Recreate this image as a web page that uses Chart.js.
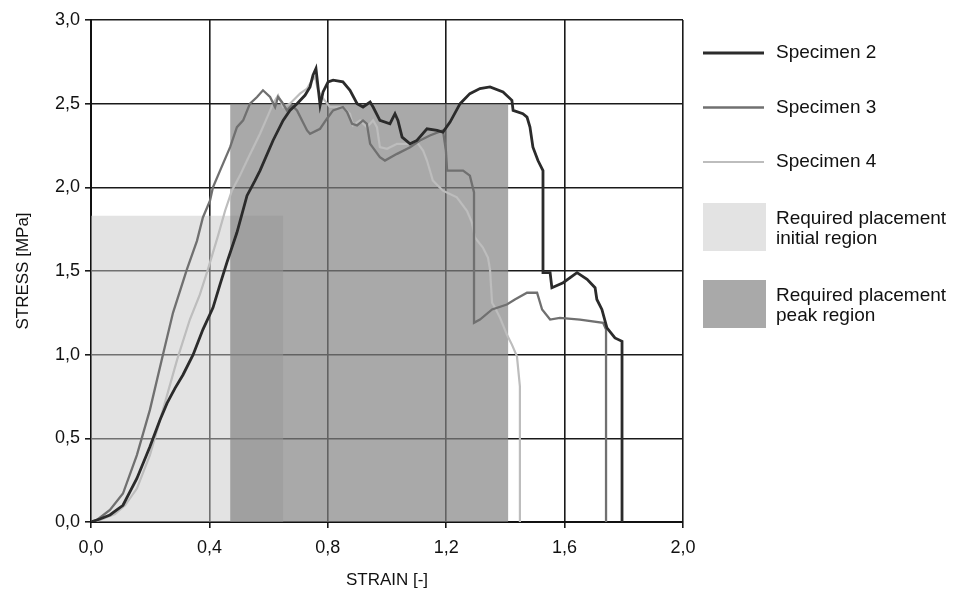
<!DOCTYPE html>
<html lang="en">
  <head>
    <meta charset="UTF-8" />
    <title>Stress - strain</title>
    <script src="https://cdn.jsdelivr.net/npm/chart.js@4.4.0/dist/chart.umd.min.js"></script>
    <style>
      html, body { margin: 0; padding: 0; background: #fff; }
    </style>
  </head>
  <body>
    <canvas id="chart" width="961" height="592"></canvas>
    <script>
      // tick positions
      var xTicks = [0, 0.4, 0.8, 1.2, 1.6, 2.0];
      var yTicks = [0, 0.5, 1.0, 1.5, 2.0, 2.5, 3.0];

      // Specimen 2
      var strain2 = [0, 0.030, 0.064, 0.108, 0.155, 0.199, 0.233, 0.257, 0.284, 0.311, 0.345, 0.378, 0.412, 0.436, 0.459,
        0.493, 0.527, 0.554, 0.571, 0.615, 0.649, 0.672, 0.696, 0.723, 0.740, 0.750, 0.760, 0.767, 0.774, 0.784, 0.801,
        0.818, 0.851, 0.875, 0.899, 0.919, 0.943, 0.953, 0.976, 1.010, 1.027, 1.037, 1.051, 1.078, 1.101, 1.135, 1.169,
        1.189, 1.213, 1.247, 1.280, 1.314, 1.348, 1.392, 1.422, 1.426, 1.459, 1.473, 1.483, 1.493, 1.510, 1.527, 1.527,
        1.551, 1.557, 1.595, 1.642, 1.676, 1.703, 1.709, 1.726, 1.743, 1.770, 1.794, 1.794];
      var stress2 = [0, 0.018, 0.042, 0.10, 0.26, 0.45, 0.61, 0.71, 0.80, 0.88, 1.00, 1.15, 1.28, 1.42, 1.55,
        1.73, 1.95, 2.04, 2.10, 2.28, 2.40, 2.46, 2.50, 2.55, 2.60, 2.67, 2.71, 2.60, 2.49, 2.57, 2.63,
        2.64, 2.63, 2.58, 2.50, 2.48, 2.51, 2.48, 2.40, 2.38, 2.44, 2.40, 2.30, 2.26, 2.28, 2.35, 2.34,
        2.33, 2.39, 2.50, 2.56, 2.59, 2.60, 2.57, 2.52, 2.46, 2.44, 2.42, 2.36, 2.24, 2.16, 2.10, 1.49,
        1.49, 1.40, 1.43, 1.49, 1.45, 1.40, 1.33, 1.27, 1.16, 1.10, 1.08, 0];

      // Specimen 3
      var strain3 = [0, 0.020, 0.064, 0.108, 0.155, 0.199, 0.243, 0.277, 0.324, 0.358, 0.378, 0.402, 0.412, 0.436, 0.470,
        0.493, 0.514, 0.537, 0.561, 0.581, 0.605, 0.622, 0.632, 0.645, 0.662, 0.679, 0.696, 0.713, 0.730, 0.740, 0.774,
        0.797, 0.818, 0.851, 0.865, 0.882, 0.899, 0.919, 0.932, 0.943, 0.976, 0.993, 1.034, 1.078, 1.111, 1.145, 1.189,
        1.199, 1.203, 1.236, 1.257, 1.280, 1.294, 1.294, 1.314, 1.355, 1.405, 1.432, 1.473, 1.507, 1.524, 1.551, 1.584,
        1.652, 1.730, 1.740, 1.740];
      var stress3 = [0, 0.012, 0.072, 0.17, 0.40, 0.67, 1.00, 1.25, 1.51, 1.68, 1.82, 1.92, 2.00, 2.10, 2.24,
        2.36, 2.40, 2.50, 2.54, 2.58, 2.54, 2.48, 2.54, 2.51, 2.46, 2.49, 2.46, 2.40, 2.34, 2.32, 2.35,
        2.41, 2.46, 2.48, 2.45, 2.38, 2.37, 2.40, 2.38, 2.26, 2.18, 2.16, 2.20, 2.24, 2.28, 2.31, 2.34,
        2.22, 2.10, 2.10, 2.10, 2.07, 1.97, 1.19, 1.21, 1.27, 1.30, 1.33, 1.37, 1.37, 1.27, 1.21, 1.22,
        1.21, 1.19, 1.15, 0];

      // Specimen 4
      var strain4 = [0, 0.030, 0.081, 0.115, 0.155, 0.199, 0.243, 0.291, 0.334, 0.368, 0.395, 0.429, 0.453, 0.476, 0.503,
        0.527, 0.571, 0.598, 0.615, 0.632, 0.649, 0.672, 0.706, 0.730, 0.747, 0.757, 0.767, 0.780, 0.807, 0.851,
        0.875, 0.885, 0.909, 0.932, 0.953, 0.966, 0.976, 1.000, 1.034, 1.078, 1.101, 1.122, 1.135, 1.155, 1.189,
        1.236, 1.270, 1.287, 1.297, 1.324, 1.341, 1.348, 1.355, 1.365, 1.382, 1.405, 1.422, 1.439, 1.449, 1.449];
      var stress4 = [0, 0.012, 0.048, 0.10, 0.20, 0.40, 0.67, 0.97, 1.21, 1.36, 1.51, 1.71, 1.86, 1.98, 2.07,
        2.16, 2.32, 2.43, 2.50, 2.55, 2.48, 2.50, 2.56, 2.59, 2.64, 2.66, 2.58, 2.54, 2.48, 2.48,
        2.44, 2.37, 2.40, 2.36, 2.40, 2.36, 2.24, 2.23, 2.26, 2.26, 2.27, 2.22, 2.16, 2.04, 1.98,
        1.94, 1.86, 1.79, 1.70, 1.64, 1.58, 1.51, 1.31, 1.28, 1.22, 1.12, 1.06, 0.99, 0.81, 0];

      // required placement regions (strain range, stress level)
      var initialStrain = [0, 0.65];
      var initialStress = [1.83, 1.83];
      var peakStrain = [0.47, 1.41];
      var peakStress = [2.5, 2.5];

      function pts(xs, ys) {
        return xs.map((x, i) => ({ x: x, y: ys[i] }));
      }

      var FONT = '"Liberation Sans", Arial, sans-serif';
      var INK = '#111';

      // legend drawn at the right, read from the datasets
      var sideLegend = {
        id: 'sideLegend',
        afterDraw(chart) {
          var ctx = chart.ctx;
          ctx.save();
          ctx.font = '19px ' + FONT;
          ctx.textBaseline = 'middle';
          var li = 0, bi = 0;
          chart.data.datasets.forEach((ds) => {
            var lines = ds.label.split('\n');
            if (ds.fill) {
              var top = 203 + bi * 77;
              ctx.fillStyle = ds.backgroundColor;
              ctx.fillRect(703, top, 63, 48);
              ctx.fillStyle = INK;
              lines.forEach((t, k) => ctx.fillText(t, 776, top + 16 + k * 19.5));
              bi++;
            } else {
              var cy = 53 + li * 54.5;
              ctx.strokeStyle = ds.borderColor;
              ctx.lineWidth = ds.borderWidth;
              ctx.beginPath();
              ctx.moveTo(703, cy);
              ctx.lineTo(764, cy);
              ctx.stroke();
              ctx.fillStyle = INK;
              ctx.fillText(lines[0], 776, cy);
              li++;
            }
          });
          ctx.restore();
        }
      };

      var tickFmt = (v) => Number(v).toFixed(1).replace('.', ',');

      new Chart(document.getElementById('chart'), {
        type: 'line',
        data: {
          datasets: [
            { label: 'Specimen 2', data: pts(strain2, stress2), borderColor: '#2b2b2b', borderWidth: 2.8, order: 0 },
            { label: 'Specimen 3', data: pts(strain3, stress3), borderColor: '#707070', borderWidth: 2.3, order: 1 },
            { label: 'Specimen 4', data: pts(strain4, stress4), borderColor: '#bdbdbd', borderWidth: 2.2, order: 2 },
            {
              label: 'Required placement\ninitial region',
              data: pts(initialStrain, initialStress),
              borderWidth: 0,
              borderColor: 'rgba(0,0,0,0)',
              backgroundColor: 'rgba(200,200,200,0.5)',
              fill: 'origin',
              order: 4
            },
            {
              label: 'Required placement\npeak region',
              data: pts(peakStrain, peakStress),
              borderWidth: 0,
              borderColor: 'rgba(0,0,0,0)',
              backgroundColor: 'rgba(130,130,130,0.69)',
              fill: 'origin',
              order: 3
            }
          ]
        },
        options: {
          responsive: false,
          animation: false,
          layout: { padding: { left: 0, right: 278, top: 20, bottom: 0 } },
          elements: {
            point: { radius: 0 },
            line: { tension: 0 }
          },
          plugins: {
            legend: { display: false },
            tooltip: { enabled: false }
          },
          scales: {
            x: {
              type: 'linear',
              min: 0,
              max: 2,
              afterBuildTicks: (s) => { s.ticks = xTicks.map((v) => ({ value: v })); },
              afterFit: (s) => { s.height = 70; },
              grid: { color: '#1a1a1a', lineWidth: 1.6, tickLength: 6 },
              border: { color: '#111', width: 2 },
              ticks: { callback: tickFmt, color: INK, padding: 9, maxRotation: 0, font: { family: FONT, size: 18 } },
              title: { display: true, text: 'STRAIN [-]', color: INK, padding: { top: 0, bottom: 1 }, font: { family: FONT, size: 17 } }
            },
            y: {
              min: 0,
              max: 3,
              afterBuildTicks: (s) => { s.ticks = yTicks.map((v) => ({ value: v })); },
              afterFit: (s) => { s.width = 91; },
              grid: { color: '#1a1a1a', lineWidth: 1.6, tickLength: 6 },
              border: { color: '#111', width: 2 },
              ticks: { callback: tickFmt, color: INK, padding: 5, font: { family: FONT, size: 18 } },
              title: { display: true, text: 'STRESS [MPa]', color: INK, padding: { top: 13, bottom: 0 }, font: { family: FONT, size: 17 } }
            }
          }
        },
        plugins: [sideLegend]
      });
    </script>
  </body>
</html>
